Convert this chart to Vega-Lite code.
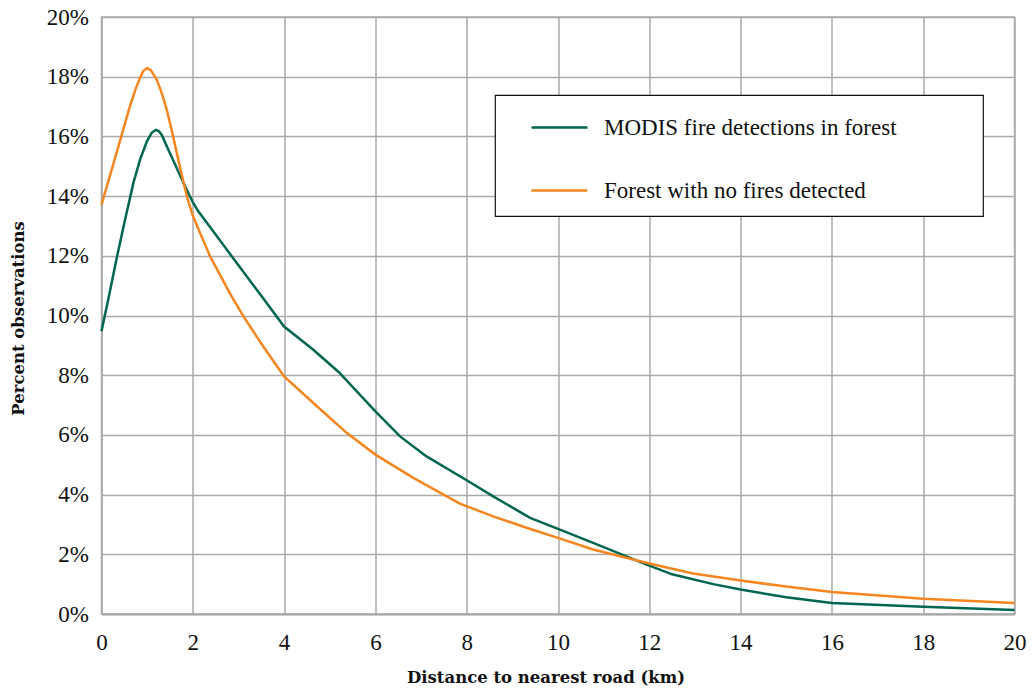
{
  "$schema": "https://vega.github.io/schema/vega-lite/v6.json",
  "width": 913,
  "height": 597,
  "autosize": {"type": "none"},
  "padding": {"left": 101.5, "top": 17, "right": 20.5, "bottom": 76},
  "background": "white",
  "config": {
    "view": {"stroke": "#aaaaaa", "strokeWidth": 1.5},
    "font": "Liberation Serif"
  },
  "data": {
    "values": [
      {"series": "MODIS fire detections in forest", "km": 0, "pct": 9.47},
      {"series": "MODIS fire detections in forest", "km": 0.15, "pct": 10.55},
      {"series": "MODIS fire detections in forest", "km": 0.33, "pct": 11.9},
      {"series": "MODIS fire detections in forest", "km": 0.5, "pct": 13.1},
      {"series": "MODIS fire detections in forest", "km": 0.7, "pct": 14.45},
      {"series": "MODIS fire detections in forest", "km": 0.85, "pct": 15.25},
      {"series": "MODIS fire detections in forest", "km": 1.0, "pct": 15.85},
      {"series": "MODIS fire detections in forest", "km": 1.1, "pct": 16.12},
      {"series": "MODIS fire detections in forest", "km": 1.19, "pct": 16.22},
      {"series": "MODIS fire detections in forest", "km": 1.26, "pct": 16.17},
      {"series": "MODIS fire detections in forest", "km": 1.32, "pct": 16.05},
      {"series": "MODIS fire detections in forest", "km": 1.45, "pct": 15.6},
      {"series": "MODIS fire detections in forest", "km": 1.57, "pct": 15.2},
      {"series": "MODIS fire detections in forest", "km": 1.72, "pct": 14.7},
      {"series": "MODIS fire detections in forest", "km": 1.87, "pct": 14.2},
      {"series": "MODIS fire detections in forest", "km": 2.0, "pct": 13.8},
      {"series": "MODIS fire detections in forest", "km": 2.12, "pct": 13.49},
      {"series": "MODIS fire detections in forest", "km": 2.5, "pct": 12.71},
      {"series": "MODIS fire detections in forest", "km": 3.0, "pct": 11.68},
      {"series": "MODIS fire detections in forest", "km": 3.5, "pct": 10.66},
      {"series": "MODIS fire detections in forest", "km": 4.0, "pct": 9.63},
      {"series": "MODIS fire detections in forest", "km": 4.64, "pct": 8.85},
      {"series": "MODIS fire detections in forest", "km": 5.2, "pct": 8.1},
      {"series": "MODIS fire detections in forest", "km": 6.0, "pct": 6.79},
      {"series": "MODIS fire detections in forest", "km": 6.54, "pct": 5.95},
      {"series": "MODIS fire detections in forest", "km": 7.12, "pct": 5.28},
      {"series": "MODIS fire detections in forest", "km": 8.0, "pct": 4.48},
      {"series": "MODIS fire detections in forest", "km": 8.58, "pct": 3.94},
      {"series": "MODIS fire detections in forest", "km": 9.39, "pct": 3.22},
      {"series": "MODIS fire detections in forest", "km": 10.0, "pct": 2.85},
      {"series": "MODIS fire detections in forest", "km": 10.77, "pct": 2.38},
      {"series": "MODIS fire detections in forest", "km": 11.58, "pct": 1.88},
      {"series": "MODIS fire detections in forest", "km": 12.0, "pct": 1.62},
      {"series": "MODIS fire detections in forest", "km": 12.5, "pct": 1.33},
      {"series": "MODIS fire detections in forest", "km": 13.4, "pct": 1.0},
      {"series": "MODIS fire detections in forest", "km": 14.0, "pct": 0.82},
      {"series": "MODIS fire detections in forest", "km": 15.0, "pct": 0.56},
      {"series": "MODIS fire detections in forest", "km": 16.0, "pct": 0.37},
      {"series": "MODIS fire detections in forest", "km": 18.0, "pct": 0.24},
      {"series": "MODIS fire detections in forest", "km": 20.0, "pct": 0.13},
      {"series": "Forest with no fires detected", "km": 0, "pct": 13.71},
      {"series": "Forest with no fires detected", "km": 0.15, "pct": 14.5},
      {"series": "Forest with no fires detected", "km": 0.33, "pct": 15.45},
      {"series": "Forest with no fires detected", "km": 0.5, "pct": 16.35},
      {"series": "Forest with no fires detected", "km": 0.62, "pct": 17.0},
      {"series": "Forest with no fires detected", "km": 0.75, "pct": 17.6},
      {"series": "Forest with no fires detected", "km": 0.84, "pct": 17.95},
      {"series": "Forest with no fires detected", "km": 0.92, "pct": 18.2},
      {"series": "Forest with no fires detected", "km": 1.0, "pct": 18.29},
      {"series": "Forest with no fires detected", "km": 1.08, "pct": 18.22},
      {"series": "Forest with no fires detected", "km": 1.21, "pct": 17.9},
      {"series": "Forest with no fires detected", "km": 1.32, "pct": 17.45},
      {"series": "Forest with no fires detected", "km": 1.43, "pct": 16.89},
      {"series": "Forest with no fires detected", "km": 1.54, "pct": 16.2},
      {"series": "Forest with no fires detected", "km": 1.65, "pct": 15.44},
      {"series": "Forest with no fires detected", "km": 1.76, "pct": 14.7},
      {"series": "Forest with no fires detected", "km": 1.87, "pct": 13.99},
      {"series": "Forest with no fires detected", "km": 2.0, "pct": 13.35},
      {"series": "Forest with no fires detected", "km": 2.16, "pct": 12.76},
      {"series": "Forest with no fires detected", "km": 2.38, "pct": 11.98},
      {"series": "Forest with no fires detected", "km": 2.6, "pct": 11.35},
      {"series": "Forest with no fires detected", "km": 2.81, "pct": 10.75},
      {"series": "Forest with no fires detected", "km": 3.11, "pct": 9.97},
      {"series": "Forest with no fires detected", "km": 3.54, "pct": 8.97},
      {"series": "Forest with no fires detected", "km": 4.0, "pct": 7.96},
      {"series": "Forest with no fires detected", "km": 4.64, "pct": 7.07},
      {"series": "Forest with no fires detected", "km": 5.37, "pct": 6.07},
      {"series": "Forest with no fires detected", "km": 6.0, "pct": 5.34},
      {"series": "Forest with no fires detected", "km": 6.83, "pct": 4.56},
      {"series": "Forest with no fires detected", "km": 7.85, "pct": 3.7},
      {"series": "Forest with no fires detected", "km": 8.58, "pct": 3.27},
      {"series": "Forest with no fires detected", "km": 9.31, "pct": 2.89},
      {"series": "Forest with no fires detected", "km": 10.0, "pct": 2.55},
      {"series": "Forest with no fires detected", "km": 10.77, "pct": 2.16},
      {"series": "Forest with no fires detected", "km": 11.58, "pct": 1.85},
      {"series": "Forest with no fires detected", "km": 12.0, "pct": 1.69},
      {"series": "Forest with no fires detected", "km": 12.96, "pct": 1.36},
      {"series": "Forest with no fires detected", "km": 14.0, "pct": 1.12},
      {"series": "Forest with no fires detected", "km": 15.0, "pct": 0.92},
      {"series": "Forest with no fires detected", "km": 16.0, "pct": 0.74},
      {"series": "Forest with no fires detected", "km": 18.0, "pct": 0.51},
      {"series": "Forest with no fires detected", "km": 20.0, "pct": 0.37}
    ]
  },
  "mark": {"type": "line", "interpolate": "linear", "strokeWidth": 2.5},
  "encoding": {
    "x": {
      "field": "km",
      "type": "quantitative",
      "scale": {"domain": [0, 20], "nice": false},
      "axis": {
        "title": "Distance to nearest road (km)",
        "values": [0, 2, 4, 6, 8, 10, 12, 14, 16, 18, 20],
        "ticks": false,
        "labelFont": "Liberation Serif",
        "labelFontSize": 23,
        "labelColor": "#111111",
        "labelPadding": 17,
        "labelFlush": false,
        "gridColor": "#aaaaaa",
        "gridWidth": 1.5,
        "domainColor": "#aaaaaa",
        "domainWidth": 2,
        "titleFont": "DejaVu Serif",
        "titleFontWeight": "bold",
        "titleFontSize": 16.5,
        "titleColor": "#111111",
        "titleX": 444,
        "titleY": 68,
        "titleBaseline": "alphabetic"
      }
    },
    "y": {
      "field": "pct",
      "type": "quantitative",
      "scale": {"domain": [0, 20], "nice": false},
      "axis": {
        "title": "Percent observations",
        "values": [0, 2, 4, 6, 8, 10, 12, 14, 16, 18, 20],
        "labelExpr": "datum.value + '%'",
        "ticks": false,
        "labelFont": "Liberation Serif",
        "labelFontSize": 23,
        "labelColor": "#111111",
        "labelPadding": 13,
        "labelFlush": false,
        "gridColor": "#aaaaaa",
        "gridWidth": 1.5,
        "domainColor": "#aaaaaa",
        "domainWidth": 1.5,
        "titleFont": "DejaVu Serif",
        "titleFontWeight": "bold",
        "titleFontSize": 16.5,
        "titleColor": "#111111",
        "titleX": -75,
        "titleY": 301,
        "titleAngle": 270,
        "titleAlign": "center",
        "titleBaseline": "bottom"
      }
    },
    "color": {
      "field": "series",
      "type": "nominal",
      "scale": {
        "domain": ["MODIS fire detections in forest", "Forest with no fires detected"],
        "range": ["#00664F", "#F5861F"]
      },
      "legend": {
        "title": [" ", " ", " ", " ", " ", " "],
        "titleOrient": "right",
        "titleBaseline": "top",
        "titlePadding": 83,
        "titleFontSize": 10,
        "titleLineHeight": 20.7,
        "orient": "none",
        "legendX": 393.5,
        "legendY": 78,
        "symbolType": "stroke",
        "symbolSize": 3136,
        "symbolStrokeWidth": 2.5,
        "symbolOffset": 32,
        "labelOffset": 15,
        "labelFont": "Liberation Serif",
        "labelFontSize": 23,
        "labelColor": "#111111",
        "labelLimit": 500,
        "rowPadding": 21,
        "padding": 3,
        "strokeColor": "#111111",
        "fillColor": "white",
        "encode": {"legend": {"update": {"strokeWidth": {"value": 1.2}}}}
      }
    }
  }
}
